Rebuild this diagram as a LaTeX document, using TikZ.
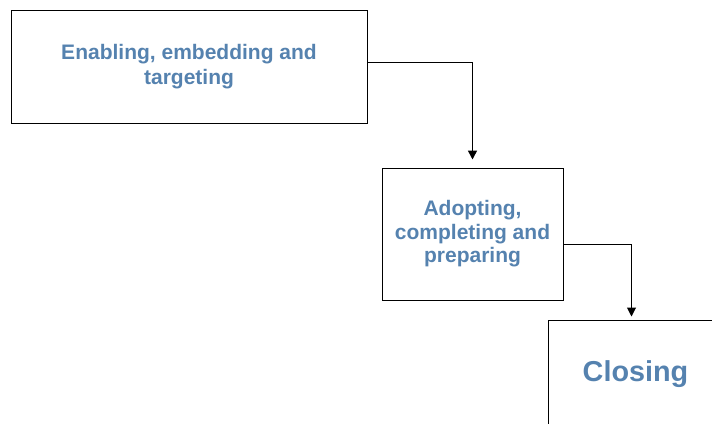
\documentclass[tikz,border=0pt]{standalone}
\usepackage{fontspec}
\setmainfont{Liberation Sans}
\usetikzlibrary{arrows.meta}
\definecolor{txtblue}{RGB}{85,130,175}
\begin{document}
\begin{tikzpicture}[x=1pt,y=-1pt,
  boxstyle/.style={draw=black,line width=1pt,inner sep=0pt,align=center,
    text=txtblue,font=\bfseries\fontsize{21}{23.5}\selectfont},
  arr/.style={draw=black,line width=1pt,-{Triangle[length=9pt,width=9pt]}}]
\useasboundingbox (0,0) rectangle (712,423);
\clip (0,0) rectangle (712,423);
\node[boxstyle,minimum width=356pt,minimum height=113pt,
  font=\bfseries\fontsize{21}{25}\selectfont] (b1) at (189,66.5)
  {Enabling, embedding and\\targeting};
\node[boxstyle,minimum width=181pt,minimum height=132pt] (b2) at (472.5,234)
  {Adopting,\\completing and\\preparing};
\node[boxstyle,minimum width=175pt,minimum height=109pt,
  font=\bfseries\fontsize{28.8}{32}\selectfont] (b3) at (635.5,374.5) {Closing};
\draw[arr,line width=1.5pt,shorten >=8pt] ([yshift=-53pt]b1.north east) -| (b2.north);
\draw[arr,shorten >=3pt] ([yshift=-77pt]b2.north east) -| ([xshift=-4pt]b3.north);
\end{tikzpicture}
\end{document}
